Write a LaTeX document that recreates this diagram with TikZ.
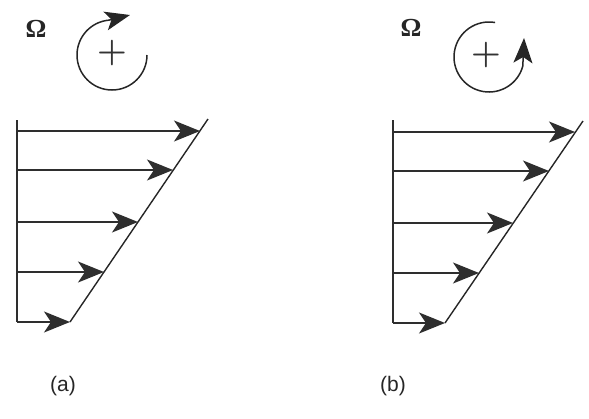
\documentclass[tikz,border=0pt]{standalone}
\usepackage{fontspec}
\newfontfamily\labfont{Liberation Sans}
\newfontfamily\omfont{Liberation Serif}
\usetikzlibrary{arrows.meta}
\begin{document}
\begin{tikzpicture}[x=1pt,y=-1pt,
  ln/.style={line width=1.7pt, draw=black!82},
  diag/.style={line width=1.4pt, draw=black!85},
  vel/.style={ln, -{Stealth[length=26pt,width=21pt,inset=7pt]}},
  rot/.style={line width=1.5pt, draw=black!85, -{Stealth[length=25pt,width=19pt,inset=6pt]}},
  omg/.style={font=\omfont\bfseries\fontsize{26}{28}\selectfont, text=black!85},
  plusmark/.style={font=\bfseries\fontsize{34}{38}\selectfont, text=black!80},
  lbl/.style={font=\labfont\fontsize{21}{24}\selectfont, text=black!85}]
\useasboundingbox (0,0) rectangle (589,418);

% ---------- panel (a) ----------
\coordinate (aTop) at (17,120);
\coordinate (aBot) at (17,322);
\draw[ln] (aTop) -- (aBot);
\foreach \y/\x [count=\i] in {131/200,170/173,222/138,272/104,322/70}{
  \coordinate (aS\i) at (17,\y);
  \coordinate (aE\i) at (\x,\y);
  \draw[vel] (aS\i) -- (aE\i);
}
\coordinate (aD1) at (70,322);
\coordinate (aD2) at (208,119);
\draw[diag] (aD1) -- (aD2);

\node[omg] (aOm) at (36,29) {Ω};
\coordinate (aC) at (112,55);
\coordinate (aTip) at (130,15);
\node[plusmark] (aPlus) at (112,53) {+};
\draw[rot] (aC) ++(0:35) arc[start angle=0,end angle=265,radius=35] -- (aTip);
\node[lbl] (la) at (63,386) {(a)};

% ---------- panel (b) ----------
\coordinate (bTop) at (393,120);
\coordinate (bBot) at (393,323);
\draw[ln] (bTop) -- (bBot);
\foreach \y/\x [count=\i] in {132/575,171/549,223/513,273/479,323/445}{
  \coordinate (bS\i) at (393,\y);
  \coordinate (bE\i) at (\x,\y);
  \draw[vel] (bS\i) -- (bE\i);
}
\coordinate (bD1) at (445,323);
\coordinate (bD2) at (583,121);
\draw[diag] (bD1) -- (bD2);

\node[omg] (bOm) at (411,28) {Ω};
\coordinate (bC) at (489,57);
\coordinate (bTip) at (524,38);
\node[plusmark] (bPlus) at (486,55) {+};
\draw[rot] (bC) ++(-80:35) arc[start angle=-80,end angle=-345,radius=35] -- (bTip);
\node[lbl] (lb) at (393,386) {(b)};
\end{tikzpicture}
\end{document}
